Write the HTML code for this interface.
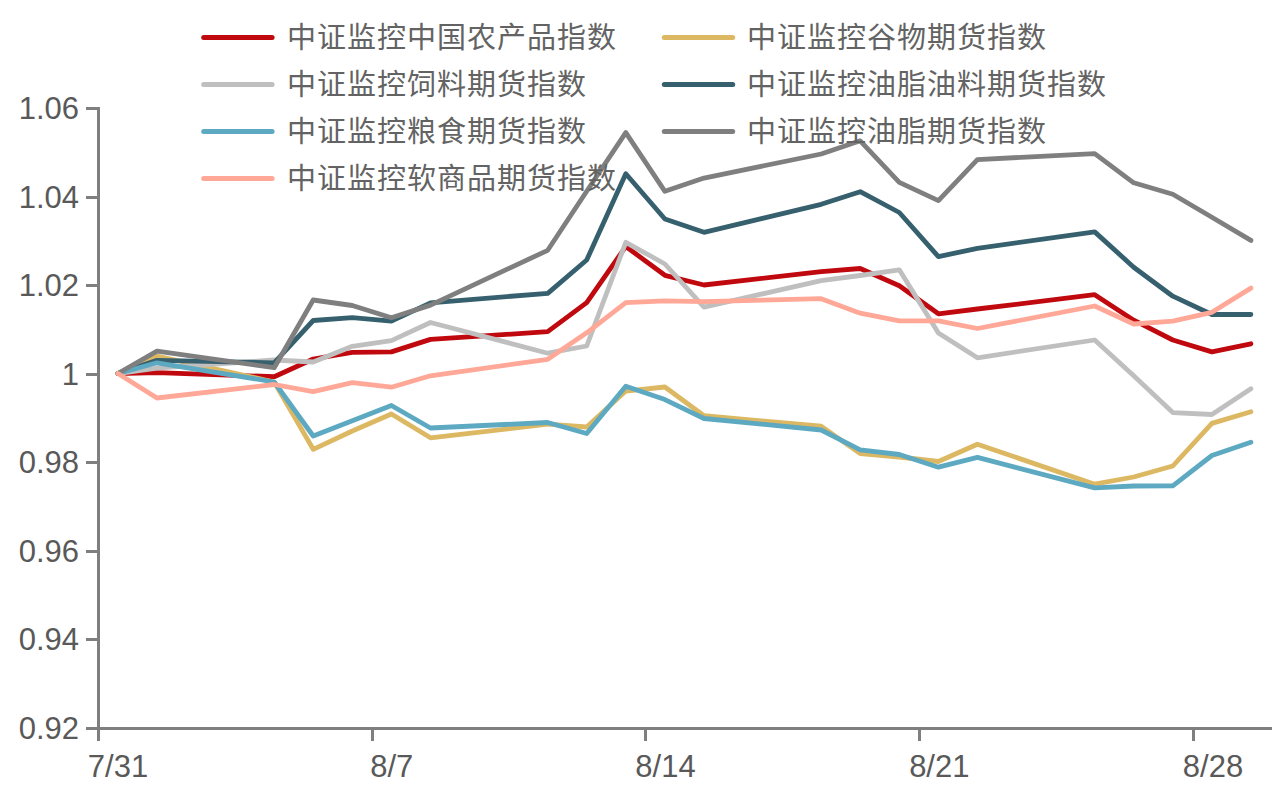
<!DOCTYPE html>
<html lang="zh-CN"><head><meta charset="utf-8"><style>
html,body{margin:0;padding:0;background:#fff;width:1286px;height:795px;overflow:hidden}
svg{display:block}
.ax line{stroke:#7F7F7F;stroke-width:3}
.lab text{font-family:"Liberation Sans",sans-serif;font-size:31px;fill:#595959}
.ser polyline{fill:none;stroke-width:4.8;stroke-linejoin:round;stroke-linecap:round}
.lg line{stroke-width:5;stroke-linecap:round}
.lt text{font-family:"Liberation Serif",serif;font-size:29px;letter-spacing:1px;fill:#636363}
</style></head><body>
<svg width="1286" height="795" viewBox="0 0 1286 795">
<g class="ax">
<line x1="98.5" y1="107" x2="98.5" y2="730"/>
<line x1="86" y1="728.5" x2="1272" y2="728.5"/>
<line x1="86" y1="108.50" x2="98.5" y2="108.50"/>
<line x1="86" y1="197.50" x2="98.5" y2="197.50"/>
<line x1="86" y1="285.50" x2="98.5" y2="285.50"/>
<line x1="86" y1="374.50" x2="98.5" y2="374.50"/>
<line x1="86" y1="462.50" x2="98.5" y2="462.50"/>
<line x1="86" y1="551.50" x2="98.5" y2="551.50"/>
<line x1="86" y1="639.50" x2="98.5" y2="639.50"/>
<line x1="86" y1="728.50" x2="98.5" y2="728.50"/>
<line x1="98.50" y1="728.5" x2="98.50" y2="741"/>
<line x1="372.50" y1="728.5" x2="372.50" y2="741"/>
<line x1="645.50" y1="728.5" x2="645.50" y2="741"/>
<line x1="919.50" y1="728.5" x2="919.50" y2="741"/>
<line x1="1193.50" y1="728.5" x2="1193.50" y2="741"/>
</g>
<g class="lab">
<text x="79" y="119.0" text-anchor="end">1.06</text>
<text x="79" y="207.6" text-anchor="end">1.04</text>
<text x="79" y="296.1" text-anchor="end">1.02</text>
<text x="79" y="384.7" text-anchor="end">1</text>
<text x="79" y="473.3" text-anchor="end">0.98</text>
<text x="79" y="561.9" text-anchor="end">0.96</text>
<text x="79" y="650.4" text-anchor="end">0.94</text>
<text x="79" y="739.0" text-anchor="end">0.92</text>
<text x="118.0" y="777" text-anchor="middle">7/31</text>
<text x="391.8" y="777" text-anchor="middle">8/7</text>
<text x="665.5" y="777" text-anchor="middle">8/14</text>
<text x="939.3" y="777" text-anchor="middle">8/21</text>
<text x="1213.0" y="777" text-anchor="middle">8/28</text>
</g>
<g class="lg">
<line x1="203.7" y1="37.6" x2="272.1" y2="37.6" stroke="#C0090E"/>
<line x1="664.3" y1="37.6" x2="732.7" y2="37.6" stroke="#DCB862"/>
<line x1="203.7" y1="84.6" x2="272.1" y2="84.6" stroke="#BFBFBF"/>
<line x1="664.3" y1="84.6" x2="732.7" y2="84.6" stroke="#36606E"/>
<line x1="203.7" y1="131.6" x2="272.1" y2="131.6" stroke="#5DA9C2"/>
<line x1="664.3" y1="131.6" x2="732.7" y2="131.6" stroke="#7F7F7F"/>
<line x1="203.7" y1="178.6" x2="272.1" y2="178.6" stroke="#FFA898"/>
</g>
<g class="ser">
<polyline points="117.9,373.5 157.0,372.6 274.2,376.7 313.2,359.0 352.3,352.4 391.4,351.9 430.5,339.4 547.7,331.7 586.7,302.6 625.8,246.5 664.9,275.3 704.0,285.0 821.2,271.7 860.2,268.5 899.3,285.8 938.4,313.8 977.4,309.0 1094.7,294.7 1133.7,320.2 1172.8,340.0 1211.9,351.9 1250.9,343.8" stroke="#C0090E"/>
<polyline points="117.9,373.5 157.0,356.0 274.2,382.0 313.2,449.3 352.3,431.0 391.4,414.0 430.5,437.8 547.7,424.2 586.7,427.0 625.8,391.1 664.9,387.0 704.0,415.7 821.2,426.2 860.2,453.6 899.3,457.0 938.4,461.5 977.4,444.2 1094.7,484.2 1133.7,477.0 1172.8,466.0 1211.9,423.4 1250.9,411.7" stroke="#DCB862"/>
<polyline points="117.9,373.5 157.0,368.2 274.2,360.0 313.2,362.0 352.3,346.3 391.4,340.6 430.5,322.5 547.7,353.2 586.7,346.0 625.8,242.3 664.9,264.0 704.0,307.2 821.2,280.6 860.2,275.5 899.3,269.8 938.4,333.0 977.4,357.8 1094.7,340.0 1133.7,375.8 1172.8,412.6 1211.9,414.5 1250.9,388.7" stroke="#BFBFBF"/>
<polyline points="117.9,373.5 157.0,360.4 274.2,362.8 313.2,320.5 352.3,317.7 391.4,321.1 430.5,302.8 547.7,293.3 586.7,260.0 625.8,173.8 664.9,219.0 704.0,232.3 821.2,204.3 860.2,191.7 899.3,212.5 938.4,256.7 977.4,248.3 1094.7,231.9 1133.7,267.2 1172.8,296.2 1211.9,314.5 1250.9,314.5" stroke="#36606E"/>
<polyline points="117.9,373.5 157.0,362.8 274.2,382.0 313.2,436.0 352.3,420.7 391.4,405.5 430.5,428.0 547.7,422.5 586.7,433.5 625.8,386.2 664.9,399.6 704.0,418.5 821.2,430.0 860.2,449.8 899.3,454.5 938.4,467.2 977.4,457.4 1094.7,487.9 1133.7,486.0 1172.8,485.8 1211.9,455.5 1250.9,442.3" stroke="#5DA9C2"/>
<polyline points="117.9,373.5 157.0,351.2 274.2,367.7 313.2,300.0 352.3,305.5 391.4,317.8 430.5,305.1 547.7,250.3 586.7,191.3 625.8,132.6 664.9,191.3 704.0,178.1 821.2,154.0 860.2,140.8 899.3,182.3 938.4,200.6 977.4,159.6 1094.7,153.6 1133.7,182.8 1172.8,194.2 1211.9,217.2 1250.9,240.4" stroke="#7F7F7F"/>
<polyline points="117.9,373.5 157.0,398.0 274.2,384.5 313.2,391.7 352.3,382.6 391.4,387.2 430.5,375.8 547.7,359.3 586.7,332.8 625.8,302.6 664.9,300.8 704.0,301.7 821.2,298.7 860.2,313.2 899.3,320.8 938.4,320.8 977.4,328.5 1094.7,306.0 1133.7,324.0 1172.8,321.1 1211.9,312.3 1250.9,288.1" stroke="#FFA898"/>
</g>
<g class="lt">
<text x="286.7" y="47.6">中证监控中国农产品指数</text>
<text x="747.3" y="47.6">中证监控谷物期货指数</text>
<text x="286.7" y="94.6">中证监控饲料期货指数</text>
<text x="747.3" y="94.6">中证监控油脂油料期货指数</text>
<text x="286.7" y="141.6">中证监控粮食期货指数</text>
<text x="747.3" y="141.6">中证监控油脂期货指数</text>
<text x="286.7" y="188.6">中证监控软商品期货指数</text>
</g>
</svg>
</body></html>
